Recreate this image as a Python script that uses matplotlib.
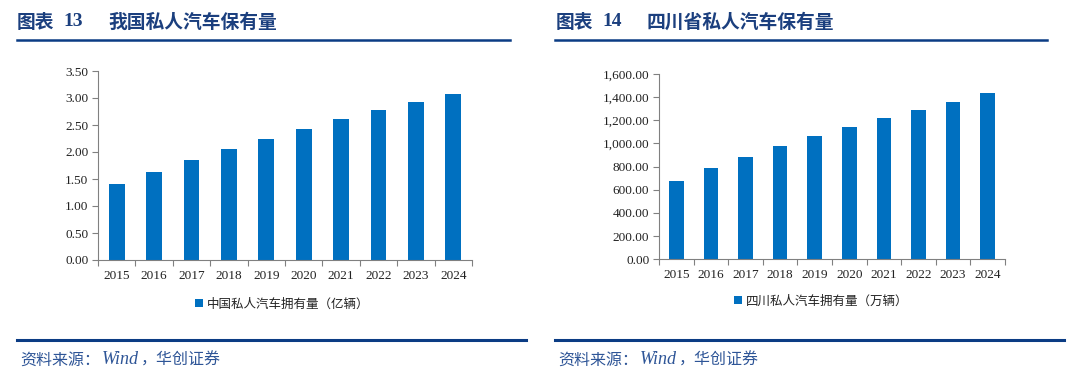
import numpy as np
import matplotlib.pyplot as plt
from matplotlib.ticker import FuncFormatter

plt.rcParams['font.family'] = ['Noto Sans CJK SC', 'DejaVu Sans']

years = ['2015', '2016', '2017', '2018', '2019', '2020', '2021', '2022', '2023', '2024']
china_cars = [1.40, 1.635, 1.86, 2.06, 2.24, 2.43, 2.62, 2.77, 2.93, 3.08]
sichuan_cars = [680, 785, 882, 975, 1062, 1140, 1218, 1290, 1362, 1440]

title_left = '我国私人汽车保有量'
title_right = '四川省私人汽车保有量'
legend_left = '中国私人汽车拥有量（亿辆）'
legend_right = '四川私人汽车拥有量（万辆）'
source_parts = ['资料来源：', 'Wind', '，华创证券']

W, H = 1080, 378
bar_color = '#0070C0'
navy = '#0B3C84'
title_color = '#1B3F7E'
source_color = '#2E5597'
tick_font = 'Liberation Serif'

fig = plt.figure(figsize=(W / 100, H / 100), dpi=100)


def px(x0, y0, x1, y1):
    # pixel box (top-left origin) -> figure fraction rect
    return [x0 / W, 1 - y1 / H, (x1 - x0) / W, (y1 - y0) / H]


def draw_panel(rect, values, ymax, ystep, fmt, legend_text, legend_xy):
    ax = fig.add_axes(rect)
    x = np.arange(len(years))
    ax.bar(x, values, width=0.42, color=bar_color, label=legend_text, zorder=2)
    ax.set_xlim(-0.5, len(years) - 0.5)
    ax.set_ylim(0, ymax)
    ax.set_yticks(np.arange(0, ymax + ystep / 2, ystep))
    ax.yaxis.set_major_formatter(FuncFormatter(fmt))
    ax.set_xticks(x)
    ax.set_xticklabels(years)
    ax.set_xticks(np.arange(-0.5, len(years), 1), minor=True)
    ax.tick_params(axis='x', which='major', length=0, pad=7)
    ax.tick_params(axis='x', which='minor', length=4, width=0.8, color='#808080', direction='out')
    ax.tick_params(axis='y', length=4, width=0.8, color='#808080', pad=3)
    for lab in ax.get_xticklabels() + ax.get_yticklabels():
        lab.set_family(tick_font)
        lab.set_fontsize(9.5)
        lab.set_color('#222222')
    for s in ['top', 'right']:
        ax.spines[s].set_visible(False)
    for s in ['left', 'bottom']:
        ax.spines[s].set_color('#808080')
        ax.spines[s].set_linewidth(0.8)
    leg = ax.legend(loc='center left', bbox_to_anchor=legend_xy, bbox_transform=fig.transFigure,
                    frameon=False, handlelength=0.6, handleheight=0.6, handletextpad=0.3,
                    prop={'size': 9})
    for t in leg.get_texts():
        t.set_color('#222222')
    return ax


draw_panel(px(98, 71, 472, 260), china_cars, 3.5, 0.5,
           lambda v, p: f'{v:.2f}', legend_left, (184 / W, 1 - 304 / H))
draw_panel(px(659, 74, 1005, 259.3), sichuan_cars, 1600, 200,
           lambda v, p: f'{v:,.2f}', legend_right, (723 / W, 1 - 301 / H))

# headers
for x0, num, title in [(17, '13', title_left), (556, '14', title_right)]:
    fig.text(x0 / W, 1 - 22 / H, '图表', fontsize=13.5, fontweight='bold',
             color=title_color, va='center', ha='left')
    fig.text((x0 + 46) / W, 1 - 22 / H, num, fontsize=14, fontweight='bold',
             color=title_color, va='center', ha='left', family=tick_font)
    fig.text((x0 + 91) / W, 1 - 22 / H, title, fontsize=13.5, fontweight='bold',
             color=title_color, va='center', ha='left')

# rules
for x0, x1 in [(17, 510), (555, 1047)]:
    fig.add_artist(plt.Line2D([x0 / W, x1 / W], [1 - 40 / H] * 2, color=navy, lw=1.8))
for x0, x1 in [(17, 526), (555, 1064)]:
    fig.add_artist(plt.Line2D([x0 / W, x1 / W], [1 - 340 / H] * 2, color=navy, lw=2.2))

# source line, with the Latin part in a serif italic
fig.canvas.draw()
renderer = fig.canvas.get_renderer()
for x0 in [20, 558]:
    xpos = x0
    for part in source_parts:
        if part == 'Wind':
            t = fig.text(xpos / W, 1 - 360 / H, part, fontsize=13, color=source_color,
                         va='center', ha='left', style='italic', family=tick_font)
        else:
            t = fig.text(xpos / W, 1 - 360 / H, part, fontsize=11.5, color=source_color,
                         va='center', ha='left')
        xpos += t.get_window_extent(renderer).width + 2

fig.savefig('out.png', dpi=100)
